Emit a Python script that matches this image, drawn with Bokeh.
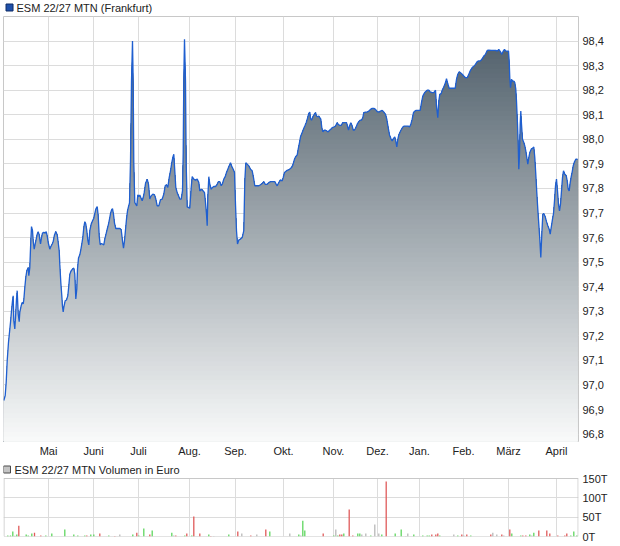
import numpy as np
from bokeh.plotting import figure
from bokeh.layouts import column
from bokeh.models import Range1d, FixedTicker, CustomJSTickFormatter
from bokeh.core.properties import value
from bokeh.embed import file_html
from bokeh.resources import INLINE

# ---------------- data ----------------
# time axis position (trading-time scale) and price
t = [3.3, 4.7, 5.7, 6.7, 8.0, 9.0, 10.0, 11.0, 12.0, 12.7,
     13.3, 14.3, 15.0, 16.0, 16.7, 17.7, 18.7, 19.3, 20.7, 21.7,
     22.7, 23.3, 24.3, 25.3, 26.3, 27.7, 28.3, 29.3, 30.3, 31.0,
     32.0, 32.7, 33.7, 34.7, 35.7, 36.7, 37.7, 38.7, 40.0, 41.0,
     42.0, 43.3, 44.7, 45.7, 46.7, 47.7, 49.3, 50.3, 51.7, 52.7,
     54.0, 55.3, 56.7, 57.7, 58.7, 59.3, 60.3, 61.3, 62.0, 62.7,
     63.3, 64.7, 66.0, 67.3, 68.3, 69.3, 70.7, 72.0, 73.3, 74.3,
     75.3, 76.3, 77.0, 78.0, 79.3, 80.3, 81.3, 82.3, 83.3, 84.3,
     85.3, 86.3, 87.3, 88.3, 89.3, 90.7, 92.0, 93.3, 94.3, 95.3,
     96.7, 97.7, 98.7, 99.7, 100.7, 102.0, 103.3, 104.3, 105.7, 106.7,
     108.0, 109.0, 110.0, 111.0, 112.0, 113.0, 114.0, 115.3, 117.3, 119.3,
     120.7, 122.0, 123.0, 124.0, 125.0, 126.0, 127.0, 128.0, 129.0, 130.0,
     131.0, 132.0, 132.7, 133.3, 134.3, 135.3, 136.3, 137.3, 138.3, 139.3,
     140.3, 141.7, 142.7, 143.7, 145.0, 146.7, 148.0, 149.3, 150.7, 152.3,
     154.0, 155.3, 156.7, 158.3, 160.0, 161.7, 163.3, 164.7, 166.0, 167.3,
     168.7, 170.0, 171.3, 172.3, 173.3, 174.3, 175.3, 176.7, 178.0, 179.3,
     180.7, 182.0, 182.7, 183.3, 184.0, 185.0, 185.7, 186.7, 188.3, 189.3,
     190.7, 191.7, 193.3, 195.0, 196.7, 198.3, 199.3, 201.0, 202.7, 204.0,
     205.0, 206.0, 206.7, 207.3, 208.3, 209.3, 210.7, 212.0, 213.3, 215.0,
     216.7, 218.0, 219.3, 220.7, 222.0, 223.3, 224.7, 226.0, 227.3, 228.7,
     230.0, 231.0, 232.7, 234.0, 235.0, 236.0, 237.0, 238.3, 240.0, 241.7,
     243.3, 244.3, 245.3, 246.7, 248.3, 250.0, 251.7, 253.0, 254.3, 256.7,
     258.3, 260.0, 261.7, 263.3, 264.7, 266.7, 268.3, 270.0, 272.7, 274.3,
     275.7, 276.7, 278.3, 280.0, 281.7, 282.7, 284.0, 286.7, 289.0, 291.0,
     292.3, 294.0, 295.0, 296.7, 297.7, 299.0, 300.0, 301.0, 302.3, 303.3,
     304.3, 305.7, 307.0, 308.3, 309.3, 310.0, 311.0, 312.3, 313.7, 315.0,
     316.0, 317.3, 318.3, 319.3, 320.3, 321.3, 322.3, 323.7, 325.0, 326.3,
     327.7, 329.0, 330.3, 331.7, 333.3, 335.0, 336.7, 337.7, 339.0, 340.7,
     342.3, 344.3, 346.0, 347.0, 348.0, 349.0, 350.3, 351.7, 352.7, 354.0,
     355.0, 356.0, 357.0, 358.3, 359.7, 361.0, 362.3, 363.3, 365.0, 366.7,
     368.3, 370.0, 371.7, 373.3, 375.0, 376.7, 378.3, 380.0, 381.7, 383.3,
     385.0, 386.3, 387.7, 389.0, 390.3, 391.7, 393.0, 394.3, 395.3, 396.3,
     397.3, 398.3, 399.7, 401.0, 402.3, 403.7, 405.7, 407.7, 409.0, 410.3,
     411.7, 413.0, 414.3, 415.7, 417.7, 419.7, 421.0, 422.3, 423.7, 425.0,
     426.7, 428.3, 429.7, 431.7, 433.3, 435.0, 436.0, 437.3, 438.3, 439.3,
     440.7, 441.7, 443.3, 445.0, 446.0, 447.3, 448.7, 450.7, 452.7, 454.7,
     456.0, 457.3, 458.7, 460.0, 461.7, 463.3, 465.0, 466.7, 468.3, 470.0,
     471.7, 473.3, 475.0, 476.7, 478.3, 480.0, 481.7, 483.3, 485.0, 486.7,
     488.3, 490.7, 493.3, 495.3, 496.7, 498.3, 500.0, 501.3, 502.7, 504.0,
     505.3, 506.7, 508.0, 508.7, 509.3, 510.0, 511.0, 512.0, 513.3, 514.3,
     515.3, 516.0, 517.0, 517.7, 518.3, 519.0, 519.7, 520.3, 521.0, 522.0,
     523.3, 524.3, 525.3, 526.3, 527.3, 528.3, 529.3, 530.7, 532.0, 533.3,
     534.3, 535.3, 536.3, 537.3, 538.3, 539.3, 540.3, 541.3, 542.3, 543.3,
     544.7, 546.0, 547.3, 548.7, 549.7, 550.7, 552.0, 553.0, 554.0, 555.0,
     556.0, 557.0, 558.0, 559.0, 560.0, 561.0, 562.0, 563.0, 564.3, 565.7,
     566.7, 567.7, 568.7, 569.7, 570.7, 571.7, 572.7, 574.0, 575.3, 577.0]

price = [96.937, 96.957, 97.011, 97.099, 97.174, 97.214, 97.255, 97.302, 97.343, 97.363,
         97.262, 97.228, 97.275, 97.350, 97.384, 97.289, 97.258, 97.296, 97.323, 97.336,
         97.330, 97.346, 97.397, 97.438, 97.465, 97.478, 97.445, 97.478, 97.587, 97.645,
         97.628, 97.587, 97.553, 97.574, 97.594, 97.614, 97.624, 97.611, 97.574, 97.600,
         97.618, 97.621, 97.618, 97.624, 97.607, 97.580, 97.553, 97.563, 97.574, 97.584,
         97.611, 97.625, 97.611, 97.580, 97.546, 97.492, 97.418, 97.363, 97.319, 97.298,
         97.316, 97.343, 97.346, 97.363, 97.404, 97.451, 97.465, 97.472, 97.476, 97.451,
         97.350, 97.391, 97.472, 97.517, 97.530, 97.550, 97.574, 97.600, 97.641, 97.665,
         97.655, 97.628, 97.590, 97.570, 97.628, 97.655, 97.668, 97.679, 97.698, 97.716,
         97.726, 97.689, 97.607, 97.571, 97.576, 97.574, 97.570, 97.594, 97.617, 97.634,
         97.655, 97.675, 97.698, 97.712, 97.718, 97.695, 97.659, 97.637, 97.637, 97.637,
         97.632, 97.587, 97.557, 97.587, 97.632, 97.675, 97.709, 97.726, 97.741, 97.912,
         98.237, 98.400, 98.233, 97.905, 97.743, 97.736, 97.729, 97.774, 97.767, 97.773,
         97.763, 97.750, 97.763, 97.783, 97.820, 97.838, 97.817, 97.757, 97.770, 97.777,
         97.774, 97.757, 97.729, 97.729, 97.754, 97.757, 97.777, 97.811, 97.815, 97.804,
         97.844, 97.872, 97.905, 97.926, 97.939, 97.872, 97.804, 97.783, 97.770, 97.757,
         97.757, 97.790, 97.946, 98.251, 98.407, 98.237, 97.899, 97.725, 97.722, 97.720,
         97.804, 97.848, 97.838, 97.834, 97.838, 97.824, 97.790, 97.797, 97.790, 97.783,
         97.743, 97.695, 97.648, 97.763, 97.848, 97.817, 97.797, 97.804, 97.808, 97.808,
         97.817, 97.828, 97.828, 97.811, 97.820, 97.838, 97.848, 97.865, 97.878, 97.892,
         97.905, 97.892, 97.878, 97.865, 97.736, 97.628, 97.574, 97.590, 97.594, 97.600,
         97.628, 97.831, 97.905, 97.899, 97.892, 97.878, 97.872, 97.844, 97.811, 97.811,
         97.811, 97.815, 97.820, 97.828, 97.817, 97.817, 97.824, 97.828, 97.828, 97.828,
         97.817, 97.811, 97.824, 97.835, 97.831, 97.844, 97.865, 97.874, 97.878, 97.885,
         97.895, 97.919, 97.928, 97.937, 97.960, 97.987, 98.010, 98.021, 98.034, 98.045,
         98.054, 98.068, 98.086, 98.106, 98.111, 98.086, 98.078, 98.091, 98.102, 98.109,
         98.095, 98.092, 98.095, 98.088, 98.082, 98.048, 98.031, 98.037, 98.037, 98.034,
         98.030, 98.037, 98.041, 98.048, 98.050, 98.054, 98.068, 98.061, 98.057, 98.057,
         98.068, 98.068, 98.068, 98.054, 98.038, 98.054, 98.068, 98.054, 98.038, 98.038,
         98.045, 98.054, 98.064, 98.072, 98.078, 98.078, 98.088, 98.109, 98.111, 98.111,
         98.115, 98.122, 98.126, 98.126, 98.122, 98.113, 98.111, 98.115, 98.118, 98.111,
         98.102, 98.082, 98.048, 98.018, 98.004, 97.993, 98.004, 98.010, 97.993, 97.969,
         98.000, 98.018, 98.031, 98.041, 98.050, 98.054, 98.054, 98.054, 98.050, 98.061,
         98.082, 98.109, 98.115, 98.118, 98.118, 98.118, 98.149, 98.176, 98.187, 98.194,
         98.200, 98.200, 98.193, 98.190, 98.190, 98.200, 98.136, 98.088, 98.156, 98.183,
         98.186, 98.200, 98.213, 98.231, 98.247, 98.226, 98.208, 98.208, 98.208, 98.208,
         98.244, 98.265, 98.275, 98.271, 98.265, 98.258, 98.251, 98.251, 98.265, 98.281,
         98.292, 98.298, 98.305, 98.316, 98.319, 98.319, 98.328, 98.339, 98.346, 98.362,
         98.363, 98.362, 98.362, 98.362, 98.359, 98.366, 98.356, 98.346, 98.359, 98.366,
         98.359, 98.359, 98.359, 98.319, 98.251, 98.210, 98.244, 98.237, 98.237, 98.231,
         98.204, 98.156, 98.061, 97.980, 97.878, 97.939, 98.061, 98.115, 98.061, 98.000,
         97.987, 97.973, 97.953, 97.926, 97.899, 97.926, 97.946, 97.960, 97.963, 97.969,
         97.926, 97.858, 97.783, 97.716, 97.655, 97.594, 97.519, 97.614, 97.695, 97.698,
         97.685, 97.665, 97.648, 97.634, 97.614, 97.641, 97.675, 97.698, 97.750, 97.811,
         97.838, 97.790, 97.736, 97.709, 97.736, 97.790, 97.844, 97.872, 97.858, 97.852,
         97.831, 97.797, 97.790, 97.824, 97.848, 97.868, 97.892, 97.909, 97.919, 97.919]

month_ticks = [48, 93, 138, 189, 235, 283, 333, 377, 419, 463, 508, 556]
month_labels = ["Mai", "Juni", "Juli", "Aug.", "Sep.", "Okt.", "Nov.", "Dez.",
                "Jan.", "Feb.", "März", "April"]
price_ticks = [96.8, 96.9, 97.0, 97.1, 97.2, 97.3, 97.4, 97.5, 97.6, 97.7,
               97.8, 97.9, 98.0, 98.1, 98.2, 98.3, 98.4]

# volume (thousand euro) with direction g = up, r = down, n = unchanged
vol_t = [7.3, 10.0, 12.3, 14.3, 16.3, 18.3, 25.7, 27.7, 31.3, 34.0,
         40.3, 45.3, 51.3, 64.3, 73.3, 77.3, 84.3, 86.3, 90.3, 93.3,
         99.3, 108.3, 114.3, 119.3, 132.3, 136.3, 138.3, 143.3, 149.3, 151.7,
         171.3, 173.3, 175.3, 184.3, 186.3, 191.3, 193.3, 199.3, 208.3, 210.3,
         213.3, 228.3, 237.3, 241.3, 250.3, 256.3, 265.3, 269.3, 289.3, 298.3,
         300.3, 302.3, 304.3, 322.7, 333.3, 335.3, 337.3, 339.3, 341.3, 343.3,
         348.7, 352.3, 357.3, 359.3, 361.3, 365.3, 370.3, 374.3, 378.3, 381.3,
         385.7, 394.7, 400.7, 405.3, 407.3, 413.3, 422.3, 426.7, 428.7, 431.3,
         435.3, 437.3, 439.3, 453.3, 457.3, 461.3, 463.3, 466.3, 470.3, 490.3,
         492.3, 496.3, 501.3, 503.3, 509.3, 511.3, 520.3, 522.3, 525.3, 529.3,
         531.3, 533.3, 538.3, 546.3, 549.3, 557.3, 564.3, 566.3, 570.3, 573.3, 576.3]
vol_val = [2.6, 2.6, 13, 2, 5, 28, 5, 2.6, 8, 10,
           2.6, 2.6, 8, 18, 5, 2.6, 2.6, 2.6, 5, 5,
           8, 2.6, 1, 5, 5, 10, 2.6, 21, 5, 15.5,
           10, 2.6, 2.6, 2.6, 8, 2.6, 52, 8, 5, 1,
           1, 5, 13, 8, 2.6, 5, 18, 13, 8, 5,
           2.6, 41, 15.5, 8, 2.6, 18, 2.6, 5, 5, 8,
           70, 2.6, 8, 8, 5, 8, 2.6, 31, 8, 5,
           142, 8, 18, 1, 8, 5, 2.6, 2.6, 2.6, 5,
           5, 8, 2.6, 5, 2.6, 5, 2.6, 5, 2.6, 5,
           10, 5, 5, 2.6, 18, 8, 2.6, 2.6, 2.6, 5,
           2.6, 10, 15.5, 15.5, 8, 2.6, 2.6, 8, 2.6, 13, 2.6]
vol_dir = list("gggngrgggr" "rggggggrgg" "rgrngrggrg" "gnrgrgrrgr" "ngrnrnrgng"
               "nggrgngrrg" "rrggnngnng" "rggnnggggr" "rrgngrnrgr" "nnrnrggrrg"
               "ngrrrrrrggg")
vol_ticks = [0, 50, 100, 150]

title_main = "ESM 22/27 MTN (Frankfurt)"
title_vol = "ESM 22/27 MTN Volumen in Euro"

# ---------------- style ----------------
FONT = "Liberation Sans"
TXT = "#222222"
GRID = "#dcdcdc"
FRAME = "#c8c8c8"
W = 620
HH, H1, H2 = 14, 447, 84

month_ticker = FixedTicker(ticks=month_ticks)
price_ticker = FixedTicker(ticks=price_ticks)
vol_ticker = FixedTicker(ticks=vol_ticks)

x_rng = Range1d(3, 578)
lo, hi = 96.77, 98.5


def style_axis(ax):
    ax.axis_line_color = None
    ax.major_tick_line_color = None
    ax.minor_tick_line_color = None
    ax.major_tick_out = 0
    ax.major_tick_in = 0
    ax.major_label_text_font = FONT
    ax.major_label_text_font_size = "11px"
    ax.major_label_text_color = TXT


# ---------------- header row for main chart ----------------
h = figure(width=W, height=HH, x_range=Range1d(0, W), y_range=Range1d(0, HH),
           x_axis_location=None, y_axis_location=None, title=None,
           output_backend="svg", toolbar_location=None,
           min_border_left=0, min_border_right=0, min_border_top=0, min_border_bottom=0)
h.outline_line_color = None
h.grid.visible = False
h.scatter(x=[6.5], y=[7], marker="square", size=7, fill_color="#1f50aa", line_color="#0d2b66")
h.text(x=[14], y=[7], text=[title_main], text_baseline="middle", text_align="left",
       text_font=value(FONT), text_font_size=value("11px"), text_color=TXT)

# ---------------- main chart ----------------
p = figure(width=W, height=H1, x_range=x_rng, y_range=Range1d(lo, hi), title=None,
           y_axis_location="right", output_backend="svg", toolbar_location=None,
           min_border_left=3, min_border_right=42, min_border_top=2,
           min_border_bottom=20)
p.outline_line_color = FRAME
p.background_fill_color = "white"
p.border_fill_color = "white"

p.xaxis.ticker = month_ticker
p.xaxis.major_label_overrides = {k: v for k, v in zip(month_ticks, month_labels)}
p.xaxis.major_label_standoff = 3
p.yaxis.ticker = price_ticker
p.yaxis.formatter = CustomJSTickFormatter(code="return tick.toFixed(1).replace('.', ',');")
p.yaxis.major_label_standoff = 4
for ax in p.axis:
    style_axis(ax)
p.xgrid.ticker = month_ticker
p.ygrid.ticker = price_ticker
p.grid.grid_line_color = GRID

# gradient area fill, built as stacked layers
tf = np.linspace(t[0], t[-1], 2000)
vf = np.interp(tf, t, price)
top_rgb = np.array([72, 88, 100])
bot_rgb = np.array([249, 250, 250])
nb = 90
edges = np.linspace(lo, hi, nb + 1)
for k in range(nb - 1, -1, -1):
    if edges[k] >= vf.max():
        continue
    y2 = np.minimum(vf, edges[k + 1])
    keep = np.ones(len(y2), dtype=bool)
    keep[1:-1] = ~((y2[1:-1] == y2[:-2]) & (y2[1:-1] == y2[2:]))
    f = ((edges[k] + edges[k + 1]) / 2 - lo) / (hi - lo)
    c = bot_rgb + (top_rgb - bot_rgb) * f
    col = "#%02x%02x%02x" % tuple(int(round(v)) for v in c)
    p.varea(x=tf[keep], y1=lo, y2=y2[keep], fill_color=col)

p.line(t, price, line_color="#1f5fd0", line_width=1.3)

# ---------------- volume panel (header drawn inside its upper strip) ----------------
VFRAME = 74            # frame height in px (header strip + bar area)
VBAR = 58              # px used by 0..150
vtop = 150 * VFRAME / VBAR
hdr_y = 150 * 67 / VBAR
p2 = figure(width=W, height=H2, x_range=x_rng, y_range=Range1d(0, vtop), title=None,
            x_axis_location=None, y_axis_location="right", output_backend="svg",
            toolbar_location=None, min_border_left=3, min_border_right=42,
            min_border_top=1, min_border_bottom=9)
p2.outline_line_color = None
p2.yaxis.ticker = vol_ticker
p2.yaxis.formatter = CustomJSTickFormatter(code="return tick + 'T';")
p2.yaxis.major_label_standoff = 4
for ax in p2.axis:
    style_axis(ax)
p2.xgrid.visible = False
p2.ygrid.ticker = vol_ticker
p2.ygrid.grid_line_color = GRID
p2.segment(x0=month_ticks, y0=0, x1=month_ticks, y1=150, line_color=GRID, line_width=1)
p2.quad(left=[3.5], right=[577.6], bottom=[0], top=[150], fill_color=None,
        line_color=FRAME, line_width=1)

cmap = {"g": "#5fd65f", "r": "#e05a5a", "n": "#b8b8b8"}
p2.vbar(x=vol_t, top=vol_val, bottom=0, width=1.3,
        fill_color=[cmap[d] for d in vol_dir], line_color=None)

p2.scatter(x=[6.5], y=[hdr_y], marker="square", size=7, fill_color="#c4c4c4",
           line_color="#4a4a4a")
p2.text(x=[14], y=[hdr_y], text=[title_vol], text_baseline="middle", text_align="left",
        text_font=value(FONT), text_font_size=value("11px"), text_color=TXT)

layout = column(h, p, p2)
open("out.html", "w").write(file_html(layout, INLINE))
